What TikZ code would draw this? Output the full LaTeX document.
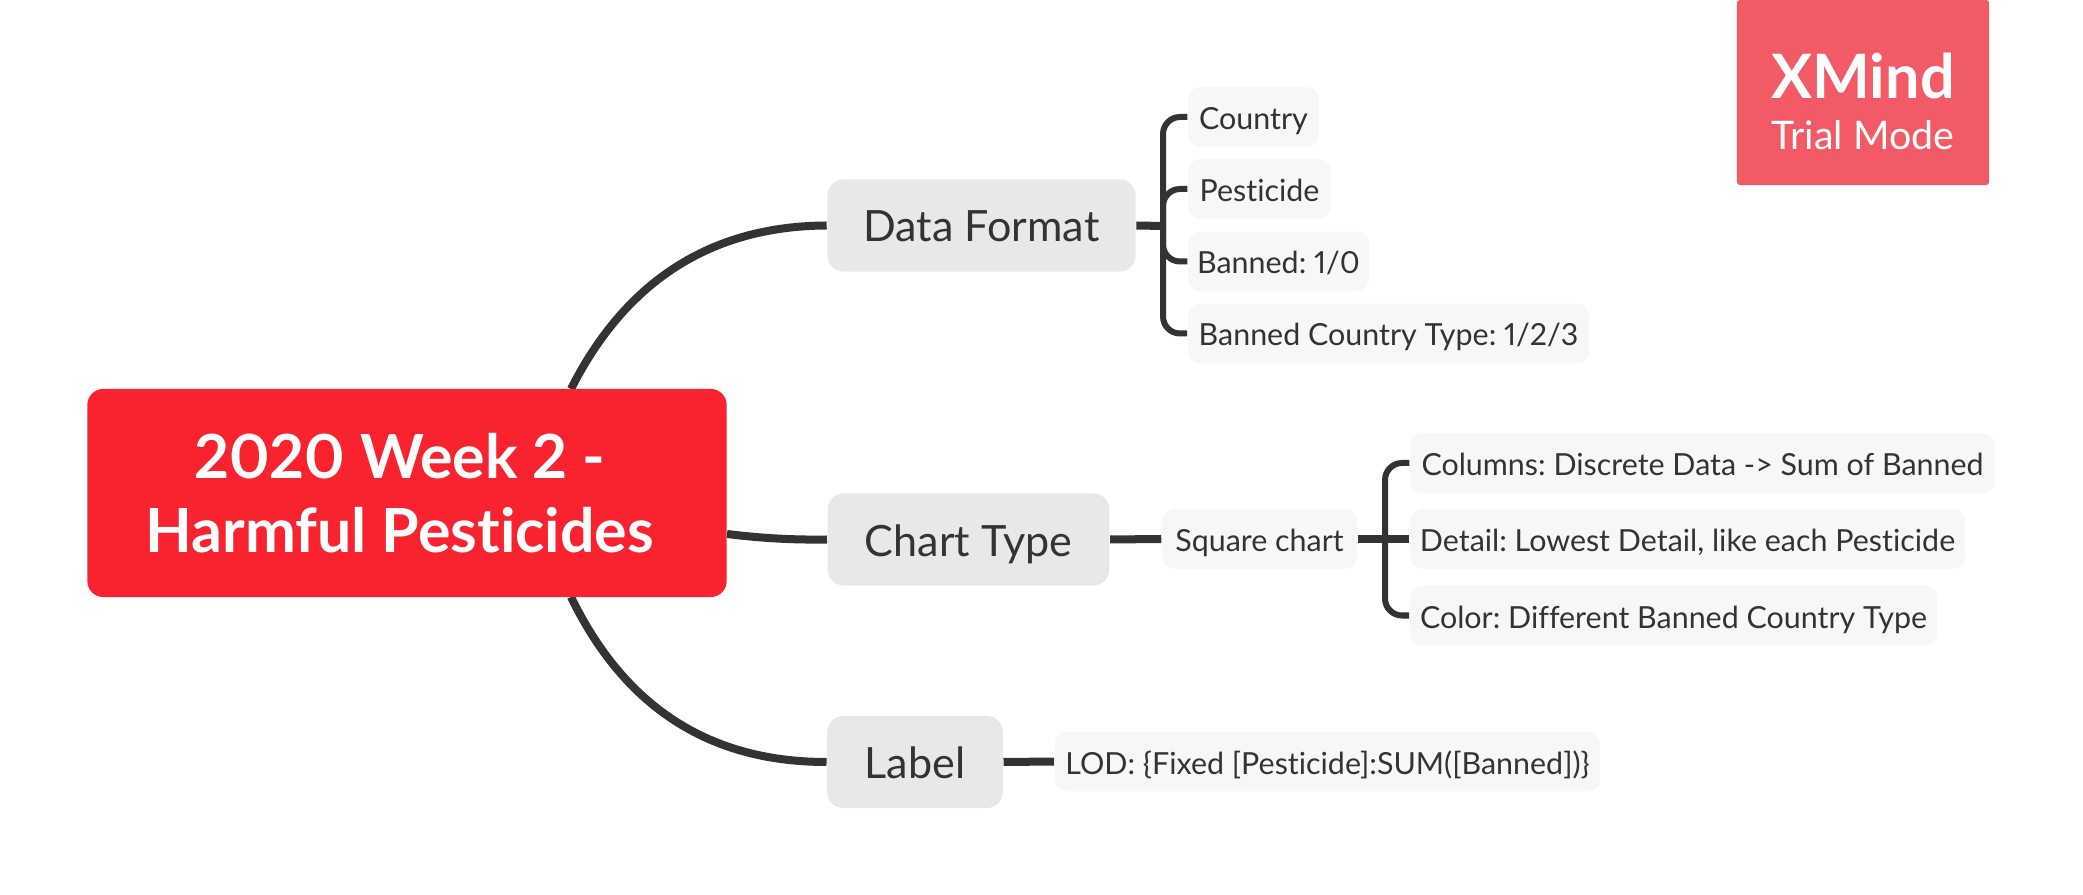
\documentclass[tikz,border=0pt]{standalone}
\usepackage{fontspec}
\setmainfont{Lato}[Ligatures=NoCommon, Numbers=Proportional]
\frenchspacing
\definecolor{rootred}{RGB}{248, 35, 47}
\definecolor{badgered}{RGB}{242, 91, 102}
\definecolor{topicgray}{RGB}{232, 232, 232}
\definecolor{leafgray}{RGB}{247, 247, 247}
\definecolor{inkgray}{RGB}{51, 51, 51}
\tikzset{
  rootbox/.style={fill=rootred, rounded corners=0.16cm, inner sep=0pt},
  roottext/.style={text=white, inner sep=0pt, align=center, font=\fontsize{17.3}{21}\selectfont\bfseries},
  topicbox/.style={fill=topicgray, text=inkgray, rounded corners=0.16cm, inner sep=0pt, minimum height=0.92cm,
    text height=0.47cm, text depth=0.14cm, font=\fontsize{12.25}{14}\selectfont},
  leafbox/.style={fill=leafgray, text=inkgray, rounded corners=0.12cm, inner sep=0pt, minimum height=0.595cm,
    text height=0.35cm, text depth=0.1cm, font=\fontsize{8.65}{10}\selectfont},
  badgebig/.style={text=white, inner sep=0pt, anchor=base, font=\fontsize{17.4}{20}\selectfont\bfseries},
  badgesmall/.style={text=white, inner sep=0pt, anchor=base, font=\fontsize{11.2}{13}\selectfont},
  mainline/.style={draw=inkgray, line width=0.08cm},
  forkline/.style={draw=inkgray, line width=0.06cm, rounded corners=0.17cm},
}

\begin{document}
\begin{tikzpicture}[x=0.01cm, y=-0.01cm]
        \useasboundingbox (0,0) rectangle (2083,895);

        \coordinate (roottop) at (571,389);
        \coordinate (rootmid) at (727,534);
        \coordinate (rootlow) at (571,597);
        \coordinate (formatfork) at (1163,226);
        \coordinate (squarefork) at (1385,539);

        \node[topicbox, minimum width=3.08cm] (format) at (981.5,225.5) {Data Format};
        \node[topicbox, minimum width=2.815cm] (charttype) at (968.5,539.5) {Chart Type};
        \node[topicbox, minimum width=1.755cm] (label) at (915,762) {Label};

        \draw[mainline] (roottop) .. controls (625,282) and (710,226) .. (format.west);
        \draw[mainline] (rootmid) .. controls (760,538) and (790,540) .. (charttype.west);
        \draw[mainline] (rootlow) .. controls (625,708) and (710,762) .. (label.west);

        \node[rootbox, minimum width=6.39cm, minimum height=2.08cm] (root) at (407,493) {};
        \node[roottext] (roottitle) at (399.7,493) {2020 Week 2 -\\Harmful Pesticides};

        \node[leafbox, minimum width=1.31cm] (country) at (1253.5,117) {Country};
        \node[leafbox, minimum width=1.43cm] (pesticide) at (1259.5,189) {Pesticide};
        \node[leafbox, minimum width=1.81cm] (banned) at (1278.5,261.5) {Banned: 1/0};
        \node[leafbox, minimum width=4.01cm] (bannedtype) at (1388.5,333.5) {Banned Country Type: 1/2/3};

        \node[leafbox, minimum width=1.95cm] (square) at (1259.5,539) {Square chart};
        \node[leafbox, minimum width=5.845cm] (columns) at (1702.5,463) {Columns: Discrete Data -> Sum of Banned};
        \node[leafbox, minimum width=5.55cm] (detail) at (1687.5,539) {Detail: Lowest Detail, like each Pesticide};
        \node[leafbox, minimum width=5.27cm] (color) at (1673.5,615.5) {Color: Different Banned Country Type};

        \node[leafbox, minimum width=5.45cm] (lod) at (1327.5,761.5) {LOD: \{Fixed [Pesticide]:SUM([Banned])\}};

        \node[fill=badgered, inner sep=0pt, rounded corners=0.03cm, minimum width=2.52cm, minimum height=1.85cm] (badge) at (1863,92.5) {};
        \node[badgebig] (xmind) at (1863,99) {XMind};
        \node[badgesmall] (trialmode) at (1863,150) {Trial Mode};

        \draw[mainline] (format.east) -- (formatfork);
        \foreach \leaf in {country, pesticide, banned, bannedtype} {
          \draw[forkline] (formatfork) |- (\leaf.west);
        }

        \draw[mainline] (charttype.east) -- (square.west);
        \draw[mainline] (square.east) -- (detail.west);
        \foreach \leaf in {columns, color} {
          \draw[forkline] (squarefork) |- (\leaf.west);
        }

        \draw[mainline] (label.east) -- (lod.west);
      \end{tikzpicture}
\end{document}
